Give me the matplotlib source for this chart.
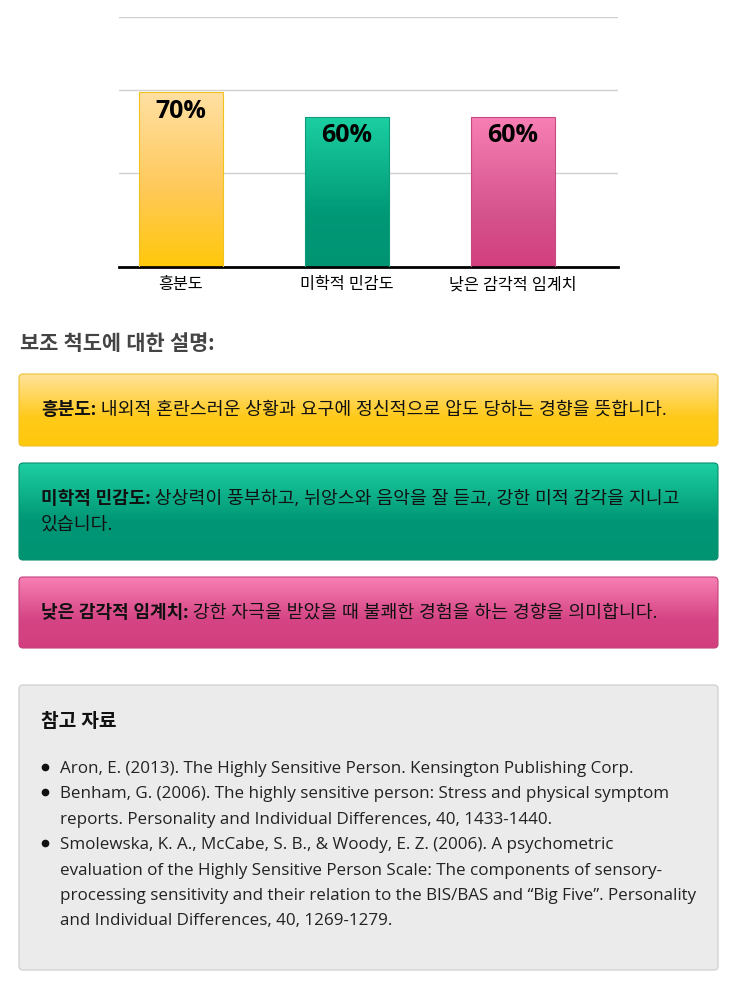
import numpy as np
import matplotlib.pyplot as plt
from matplotlib.colors import to_rgb
from matplotlib.patches import FancyBboxPatch

plt.rcParams['font.family'] = ['Open Sans', 'Noto Sans CJK KR', 'DejaVu Sans']

# chart data
categories = ['흥분도', '미학적 민감도', '낮은 감각적 임계치']
values = [70, 60, 60]
value_labels = ['70%', '60%', '60%']
grid_levels = [37.6, 70.8, 100]

# gradient stops (position from bottom, colour)
bar_stops = [
    [(0.0, '#FFC80A'), (0.45, '#FFC95A'), (1.0, '#FFE0A3')],
    [(0.0, '#009473'), (0.35, '#009876'), (1.0, '#1BCFA1')],
    [(0.0, '#D33F7E'), (0.35, '#D5538D'), (1.0, '#F77FB3')],
]
bar_edges = ['#F2C21E', '#0E9C7C', '#C84A84']

# description boxes
heading = '보조 척도에 대한 설명:'
desc_terms = ['흥분도:', '미학적 민감도:', '낮은 감각적 임계치:']
desc_lines = [
    ['내외적 혼란스러운 상황과 요구에 정신적으로 압도 당하는 경향을 뜻합니다.'],
    ['상상력이 풍부하고, 뉘앙스와 음악을 잘 듣고, 강한 미적 감각을 지니고', '있습니다.'],
    ['강한 자극을 받았을 때 불쾌한 경험을 하는 경향을 의미합니다.'],
]
box_stops = [
    [(0.0, '#FFC80C'), (0.4, '#FFCA1A'), (1.0, '#FFE39C')],
    [(0.0, '#009473'), (0.4, '#009675'), (1.0, '#1ECFA2')],
    [(0.0, '#D33F7E'), (0.4, '#D54484'), (1.0, '#F77FB3')],
]
box_edges = ['#EBC02A', '#0A8F6E', '#C2417A']

ref_title = '참고 자료'
references = [
    ['Aron, E. (2013). The Highly Sensitive Person. Kensington Publishing Corp.'],
    ['Benham, G. (2006). The highly sensitive person: Stress and physical symptom',
     'reports. Personality and Individual Differences, 40, 1433-1440.'],
    ['Smolewska, K. A., McCabe, S. B., & Woody, E. Z. (2006). A psychometric',
     'evaluation of the Highly Sensitive Person Scale: The components of sensory-',
     'processing sensitivity and their relation to the BIS/BAS and \u201cBig Five\u201d. Personality',
     'and Individual Differences, 40, 1269-1279.'],
]


def gradient(stops, n=256):
    pos = np.linspace(0, 1, n)
    p = [s[0] for s in stops]
    cols = np.array([to_rgb(s[1]) for s in stops])
    img = np.stack([np.interp(pos, p, cols[:, k]) for k in range(3)], axis=-1)
    return img[:, None, :]


W, H = 746, 991
fig = plt.figure(figsize=(W / 100, H / 100), dpi=100)

# ---- bar chart ----
ax = fig.add_axes([119 / W, 1 - 267 / H, 499 / W, 250 / H])
x = np.arange(len(categories))
bars = ax.bar(x, values, width=0.506, color='none', linewidth=0.8, zorder=3)
for rect, stops, ec in zip(bars, bar_stops, bar_edges):
    rect.set_edgecolor(ec)
    bx, bw, bh = rect.get_x(), rect.get_width(), rect.get_height()
    im = ax.imshow(gradient(stops), extent=[bx, bx + bw, 0, bh], origin='lower',
                   aspect='auto', zorder=2)
    im.set_clip_path(rect)
for xi, v, lab in zip(x, values, value_labels):
    ax.annotate(lab, (xi, v), xytext=(0, -19), textcoords='offset pixels',
                ha='center', va='center', fontsize=18, fontweight='bold',
                color='black', zorder=4)
for g in grid_levels:
    ax.axhline(g, color='#D0D0D0', linewidth=1, zorder=1)
ax.set_xlim(-0.373, 2.633)
ax.set_ylim(0, 100)
ax.set_xticks(x)
ax.set_xticklabels(categories, fontsize=11.7)
ax.tick_params(axis='x', length=0, pad=7.5)
ax.set_yticks([])
for s in ['top', 'right', 'left']:
    ax.spines[s].set_visible(False)
ax.spines['bottom'].set_linewidth(2)
ax.spines['bottom'].set_color('black')

# ---- lower section in pixel coordinates ----
bg = fig.add_axes([0, 0, 1, 1], zorder=-1)
bg.set_xlim(0, W)
bg.set_ylim(H, 0)
bg.axis('off')
bg.patch.set_alpha(0)

bg.text(20, 344, heading, fontsize=15, fontweight='bold', color='#444444',
        va='center', ha='left')

box_tops = [374, 463, 577]
box_bottoms = [446, 560, 648]
for i in range(3):
    y0, y1 = box_tops[i], box_bottoms[i]
    patch = FancyBboxPatch((19, y0), 699, y1 - y0,
                           boxstyle='round,pad=0,rounding_size=4',
                           facecolor='none', edgecolor=box_edges[i], linewidth=0.8, zorder=3)
    bg.add_patch(patch)
    im = bg.imshow(gradient(box_stops[i]), extent=[19, 718, y1, y0], origin='lower',
                   aspect='auto', zorder=2)
    im.set_clip_path(patch)
    n = len(desc_lines[i])
    yc = (y0 + y1) / 2 - (n - 1) * 13
    t = bg.text(41, yc, desc_terms[i], fontsize=13, fontweight='bold',
                color='#111111', va='center', ha='left', zorder=4)
    bg.annotate(' ' + desc_lines[i][0], xy=(1, 0.5), xycoords=t, va='center',
                ha='left', fontsize=13.2, color='#111111', zorder=4)
    for j, line in enumerate(desc_lines[i][1:], start=1):
        bg.text(41, yc + 26 * j, line, fontsize=13.2, color='#111111',
                va='center', ha='left', zorder=4)

ref_patch = FancyBboxPatch((19, 685), 699, 285, boxstyle='round,pad=0,rounding_size=4',
                           facecolor='#EBEBEB', edgecolor='#D3D3D3', linewidth=1, zorder=2)
bg.add_patch(ref_patch)
bg.text(41, 722, ref_title, fontsize=13.8, fontweight='bold', color='#111111',
        va='center', ha='left', zorder=4)
yy = 768
for ref in references:
    bg.plot(45, yy - 1, 'o', markersize=4.5, color='#111111', zorder=4)
    for line in ref:
        bg.text(60, yy + 1, line, fontsize=12.25, color='#222222', va='center',
                ha='left', zorder=4)
        yy += 25.4

fig.savefig('out.png', dpi=100)
